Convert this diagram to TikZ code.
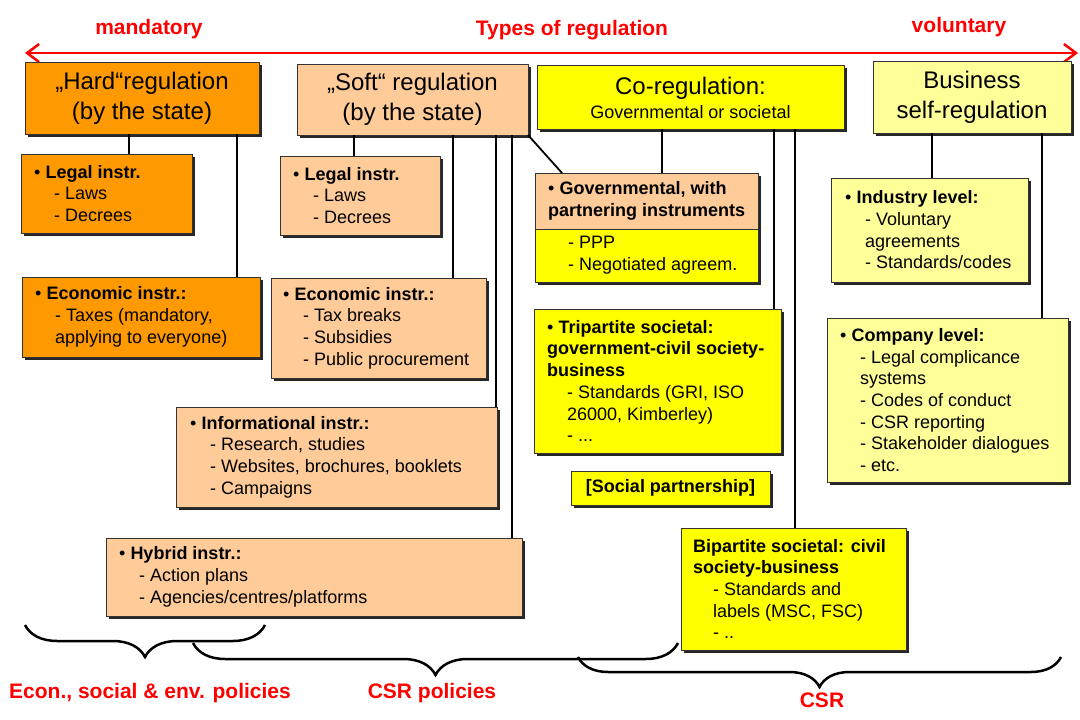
\documentclass[tikz,border=0pt]{standalone}
\usepackage{fontspec}
\setmainfont{Liberation Sans}
\usetikzlibrary{shadows,decorations.pathreplacing,arrows.meta}
\definecolor{hardorange}{HTML}{FF9900}
\definecolor{softpeach}{HTML}{FFCC99}
\definecolor{coyellow}{HTML}{FFFF00}
\definecolor{selfyellow}{HTML}{FFFF99}
\definecolor{labelred}{HTML}{FF0000}
\newcommand{\subind}{\hspace*{20pt}}
\begin{document}
\begin{tikzpicture}[x=1pt,y=-1pt,
  box/.style={draw=black!80, line width=0.8pt, inner sep=0pt, outer sep=0pt, anchor=north west,
    drop shadow={shadow xshift=2.5pt, shadow yshift=-2.5pt, opacity=1, fill=black!85}},
  title/.style={font=\fontsize{24}{30}\selectfont, align=center},
  itemtext/.style={font=\fontsize{18}{21.7}\selectfont, align=left, anchor=west, inner sep=0pt},
  conn/.style={draw=black, line width=1.8pt},
  redlabel/.style={text=labelred, font=\fontsize{21}{25}\selectfont\bfseries, inner sep=0pt},
  bracestyle/.style={draw=black, line width=2.5pt, decorate},
  redarrow/.style={draw=labelred, line width=2.5pt, <->, >={Straight Barb[length=12pt,width=18pt]}}
]
\path[fill=white, use as bounding box] (0,0) rectangle (1080,720);

% top arrow and labels
\coordinate (arrowL) at (25,53);
\coordinate (arrowR) at (1078,53);
\draw[redarrow] (arrowL) -- (arrowR);
\node[redlabel] (mand) at (149,29) {mandatory};
\node[redlabel] (types) at (572,30) {Types of regulation};
\node[redlabel] (volun) at (959,27) {voluntary};

% top boxes
\node[box, fill=hardorange, minimum width=234pt, minimum height=72pt, title] (hard) at (25,62) {„Hard“regulation\\(by the state)};
\node[box, fill=softpeach, minimum width=231pt, minimum height=71pt, title] (soft) at (297,64) {„Soft“ regulation\\(by the state)};
\node[box, fill=coyellow, minimum width=307pt, minimum height=64pt] (coreg) at (537,65) {};
\node[inner sep=0pt, font=\fontsize{24}{28}\selectfont] (coreg-t1) at (690.5,88) {Co-regulation:};
\node[inner sep=0pt, font=\fontsize{18}{21.7}\selectfont] (coreg-t2) at (690.5,112) {Governmental or societal};
\node[box, fill=selfyellow, minimum width=198pt, minimum height=72pt, title] (business) at (873,61) {Business\\self-regulation};

% hard regulation instruments
\node[box, fill=hardorange, minimum width=171pt, minimum height=79pt] (hardlegal) at (21,154) {};
\node[itemtext] (hardlegal-t) at ([xshift=13pt]hardlegal.west) {• \textbf{Legal instr.}\\\subind- Laws\\\subind- Decrees};
\node[box, fill=hardorange, minimum width=238pt, minimum height=80pt] (hardecon) at (22,277) {};
\node[itemtext] (hardecon-t) at ([xshift=13pt]hardecon.west) {• \textbf{Economic instr.:}\\\subind- Taxes (mandatory,\\\subind applying to everyone)};

% soft regulation instruments
\node[box, fill=softpeach, minimum width=160pt, minimum height=79pt] (softlegal) at (280,156) {};
\node[itemtext] (softlegal-t) at ([xshift=13pt]softlegal.west) {• \textbf{Legal instr.}\\\subind- Laws\\\subind- Decrees};
\node[box, fill=softpeach, minimum width=215pt, minimum height=100pt] (softecon) at (271,278) {};
\node[itemtext] (softecon-t) at ([xshift=12pt]softecon.west) {• \textbf{Economic instr.:}\\\subind- Tax breaks\\\subind- Subsidies\\\subind- Public procurement};
\node[box, fill=softpeach, minimum width=321pt, minimum height=100pt] (info) at (176,407) {};
\node[itemtext] (info-t) at ([xshift=14pt]info.west) {• \textbf{Informational instr.:}\\\subind- Research, studies\\\subind- Websites, brochures, booklets\\\subind- Campaigns};
\node[box, fill=softpeach, minimum width=416pt, minimum height=78pt] (hybrid) at (106,538) {};
\node[itemtext] (hybrid-t) at ([xshift=13pt]hybrid.west) {• \textbf{Hybrid instr.:}\\\subind- Action plans\\\subind- Agencies/centres/platforms};

% co-regulation
\node[box, fill=coyellow, minimum width=223pt, minimum height=109pt,
  path picture={\fill[softpeach] (path picture bounding box.north west) rectangle ([yshift=-56pt]path picture bounding box.north east);
    \draw[black!80, line width=0.8pt] ([yshift=-56pt]path picture bounding box.north west) -- ([yshift=-56pt]path picture bounding box.north east);}] (gov) at (535,173) {};
\node[itemtext] (govhead) at (548,201) {• \textbf{Governmental, with}\\\textbf{partnering instruments}};
\node[itemtext] (govitems) at (548,255.5) {\subind- PPP\\\subind- Negotiated agreem.};
\node[box, fill=coyellow, minimum width=247pt, minimum height=144pt] (tri) at (534,309) {};
\node[itemtext] (tri-t) at ([xshift=13pt]tri.west) {• \textbf{Tripartite societal:}\\\textbf{government-civil society-}\\\textbf{business}\\\subind- Standards (GRI, ISO\\\subind 26000, Kimberley)\\\subind- ...};
\node[box, fill=coyellow, minimum width=199pt, minimum height=34pt, font=\fontsize{18}{21.7}\selectfont\bfseries] (social) at (571,471) {[Social partnership]};
\node[box, fill=coyellow, minimum width=225pt, minimum height=122pt] (bi) at (681,528) {};
\node[itemtext] (bi-t) at ([xshift=12pt]bi.west) {\textbf{Bipartite societal: civil}\\\textbf{society-business}\\\subind- Standards and\\\subind labels (MSC, FSC)\\\subind- ..};

% self-regulation
\node[box, fill=selfyellow, minimum width=197pt, minimum height=104pt] (industry) at (831,178) {};
\node[itemtext] (industry-t) at ([xshift=14pt]industry.west) {• \textbf{Industry level:}\\\subind- Voluntary\\\subind agreements\\\subind- Standards/codes};
\node[box, fill=selfyellow, minimum width=241pt, minimum height=164pt] (company) at (827,318) {};
\node[itemtext] (company-t) at ([xshift=13pt]company.west) {• \textbf{Company level:}\\\subind- Legal complicance\\\subind systems\\\subind- Codes of conduct\\\subind- CSR reporting\\\subind- Stakeholder dialogues\\\subind- etc.};

% connectors
\draw[conn] (129,0 |- hard.south) -- (129,0 |- hardlegal.north);
\draw[conn] (237,0 |- hard.south) -- (237,0 |- hardecon.north);
\draw[conn] (354,0 |- soft.south) -- (354,0 |- softlegal.north);
\draw[conn] (453,0 |- soft.south) -- (453,0 |- softecon.north);
\draw[conn] (496,0 |- soft.south) -- (496,0 |- info.north);
\draw[conn] (512,0 |- soft.south) -- (512,0 |- hybrid.north);
\draw[conn] (soft.south east) -- (562,0 |- gov.north);
\draw[conn] (662,0 |- coreg.south) -- (662,0 |- gov.north);
\draw[conn] (774,0 |- coreg.south) -- (774,0 |- tri.north);
\draw[conn] (795,0 |- coreg.south) -- (795,0 |- bi.north);
\draw[conn] (932,0 |- business.south) -- (932,0 |- industry.north);
\draw[conn] (1042,0 |- business.south) -- (1042,0 |- company.north);

% braces
\coordinate (b1r) at (265,625);
\coordinate (b1l) at (25,625);
\coordinate (b2r) at (678,643);
\coordinate (b2l) at (193,643);
\coordinate (b3r) at (1061,657);
\coordinate (b3l) at (578,657);
\draw[bracestyle, decoration={brace, amplitude=32pt}] (b1r) -- (b1l);
\draw[bracestyle, decoration={brace, amplitude=32pt}] (b2r) -- (b2l);
\draw[bracestyle, decoration={brace, amplitude=30pt}] (b3r) -- (b3l);
\node[redlabel] (econlab) at (150,693) {Econ., social \& env. policies};
\node[redlabel] (csrpol) at (432,693) {CSR policies};
\node[redlabel] (csrlab) at (822,700) {CSR};
\end{tikzpicture}
\end{document}
